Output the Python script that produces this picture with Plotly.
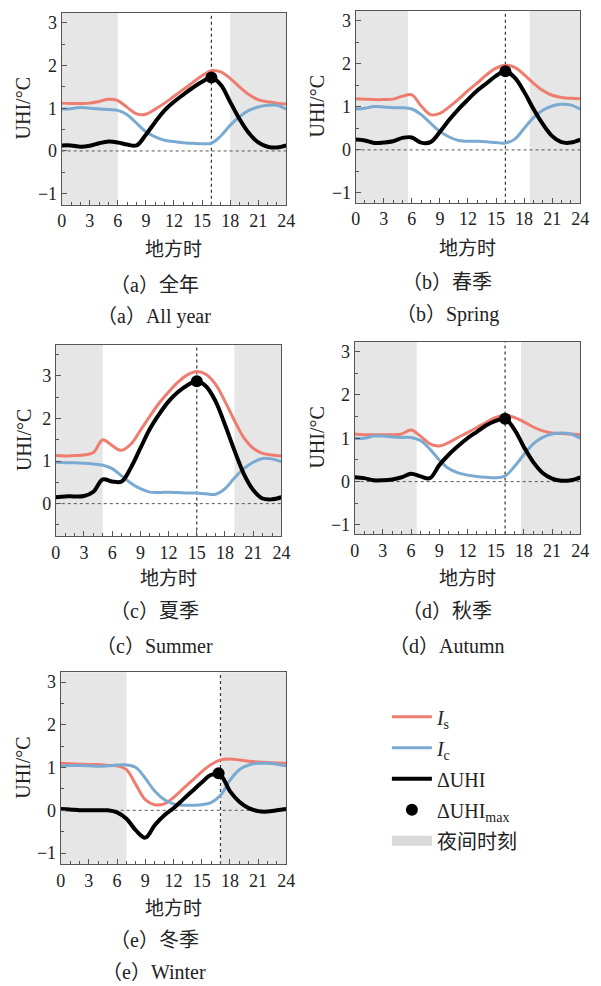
import plotly.graph_objects as go

# ---------------- data ----------------
HOURS = list(range(25))
X_TICKS = [0, 3, 6, 9, 12, 15, 18, 21, 24]

CAP_CN = ["（a）全年", "（b）春季", "（c）夏季", "（d）秋季", "（e）冬季"]
CAP_EN = ["（a）All year", "（b）Spring", "（c）Summer", "（d）Autumn", "（e）Winter"]

# I_s (red)
IS_A = [1.12, 1.11, 1.11, 1.12, 1.16, 1.21, 1.18, 1.02, 0.87, 0.86, 0.98, 1.12, 1.28,
        1.44, 1.60, 1.76, 1.88, 1.85, 1.70, 1.50, 1.32, 1.20, 1.15, 1.12, 1.10]
IS_B = [1.19, 1.18, 1.17, 1.17, 1.18, 1.25, 1.28, 1.02, 0.82, 0.85, 1.00, 1.18, 1.38,
        1.56, 1.75, 1.90, 1.97, 1.92, 1.75, 1.55, 1.38, 1.27, 1.22, 1.20, 1.19]
IS_C = [1.13, 1.12, 1.13, 1.14, 1.20, 1.50, 1.36, 1.25, 1.40, 1.72, 2.05, 2.36, 2.62,
        2.85, 3.02, 3.10, 3.03, 2.80, 2.40, 1.95, 1.55, 1.30, 1.18, 1.14, 1.12]
IS_D = [1.10, 1.08, 1.08, 1.08, 1.08, 1.10, 1.19, 1.05, 0.87, 0.82, 0.90, 1.02, 1.13,
        1.25, 1.37, 1.48, 1.53, 1.48, 1.38, 1.26, 1.17, 1.12, 1.11, 1.10, 1.08]
IS_E = [1.10, 1.09, 1.08, 1.07, 1.07, 1.05, 1.04, 0.95, 0.60, 0.25, 0.13, 0.15, 0.30,
        0.50, 0.70, 0.90, 1.07, 1.18, 1.20, 1.18, 1.15, 1.13, 1.12, 1.11, 1.10]

# I_c (blue)
IC_A = [0.98, 0.99, 1.02, 1.00, 0.98, 0.97, 0.95, 0.85, 0.65, 0.45, 0.33, 0.25, 0.22,
        0.19, 0.18, 0.17, 0.18, 0.35, 0.60, 0.80, 0.95, 1.03, 1.07, 1.07, 0.98]
IC_B = [0.95, 0.97, 1.01, 1.00, 0.98, 0.98, 0.95, 0.82, 0.62, 0.43, 0.30, 0.22, 0.20,
        0.20, 0.19, 0.17, 0.16, 0.25, 0.50, 0.75, 0.92, 1.02, 1.06, 1.04, 0.95]
IC_C = [0.97, 0.96, 0.96, 0.95, 0.93, 0.90, 0.82, 0.65, 0.48, 0.35, 0.27, 0.26, 0.27,
        0.26, 0.25, 0.25, 0.23, 0.22, 0.35, 0.60, 0.82, 0.97, 1.06, 1.05, 0.98]
IC_D = [1.00, 1.00, 1.05, 1.05, 1.03, 1.02, 1.02, 0.95, 0.75, 0.50, 0.30, 0.20, 0.15,
        0.12, 0.10, 0.09, 0.13, 0.35, 0.62, 0.87, 1.02, 1.10, 1.12, 1.10, 1.00]
IC_E = [1.03, 1.05, 1.05, 1.04, 1.03, 1.04, 1.06, 1.06, 1.00, 0.75, 0.45, 0.25, 0.15,
        0.12, 0.12, 0.13, 0.18, 0.35, 0.70, 0.95, 1.06, 1.10, 1.10, 1.08, 1.04]

# Delta UHI (black)
DU_A = [0.13, 0.13, 0.10, 0.12, 0.18, 0.22, 0.20, 0.15, 0.13, 0.38, 0.68, 0.95, 1.15,
        1.32, 1.48, 1.62, 1.72, 1.55, 1.15, 0.75, 0.42, 0.20, 0.10, 0.08, 0.13]
DU_B = [0.24, 0.22, 0.16, 0.17, 0.20, 0.28, 0.29, 0.17, 0.18, 0.42, 0.70, 0.95, 1.17,
        1.38, 1.55, 1.72, 1.83, 1.68, 1.35, 0.95, 0.60, 0.32, 0.18, 0.17, 0.24]
DU_C = [0.15, 0.17, 0.17, 0.18, 0.28, 0.57, 0.52, 0.52, 0.85, 1.30, 1.75, 2.10, 2.40,
        2.62, 2.78, 2.87, 2.75, 2.40, 1.85, 1.25, 0.70, 0.32, 0.12, 0.10, 0.15]
DU_D = [0.10, 0.08, 0.03, 0.03, 0.05, 0.10, 0.18, 0.12, 0.08, 0.38, 0.62, 0.82, 1.00,
        1.15, 1.30, 1.40, 1.45, 1.20, 0.80, 0.45, 0.20, 0.07, 0.02, 0.03, 0.10]
DU_E = [0.03, 0.02, 0.00, 0.00, 0.00, 0.00, -0.05, -0.20, -0.47, -0.64, -0.35, -0.12, 0.05,
        0.25, 0.45, 0.65, 0.83, 0.82, 0.45, 0.20, 0.05, -0.02, -0.03, 0.00, 0.03]

IS_ALL = [IS_A, IS_B, IS_C, IS_D, IS_E]
IC_ALL = [IC_A, IC_B, IC_C, IC_D, IC_E]
DU_ALL = [DU_A, DU_B, DU_C, DU_D, DU_E]

PEAK_HOUR = [16, 16, 15, 16, 16.8]
PEAK_VALUE = [1.72, 1.83, 2.87, 1.45, 0.87]
VLINE_HOUR = [16, 16, 15, 16, 17]
NIGHT_END = [6, 5.6, 5, 6.6, 7]
NIGHT_START = [18, 18.6, 19, 17.7, 17]

# ---------------- layout helpers ----------------
W, H = 601, 986


def px(x):
    return x / W


def py(y):
    return 1 - y / H


# plot areas in pixels: (left, right, top, bottom)
BOXES = [(58, 288, 13, 205), (359, 589, 11, 203), (52, 283, 345, 537),
         (358, 589, 342, 535), (57, 288, 673, 865)]
YRANGES = [[-1.26, 3.23], [-1.23, 3.23], [-0.77, 3.73], [-1.22, 3.23], [-1.26, 3.23]]
YTICKS = [[-1, 0, 1, 2, 3], [-1, 0, 1, 2, 3], [0, 1, 2, 3], [-1, 0, 1, 2, 3], [-1, 0, 1, 2, 3]]
YTITLE_X = [18, 319, 19, 319, 19]
CAP_X = [153, 453, 153, 453, 153]
XTITLE_Y = [248, 247, 577, 577, 907]
CAP1_Y = [285, 282, 612, 612, 941]
CAP2_Y = [317, 315, 647, 647, 973]

RED = "#EE7D70"
BLUE = "#7AAAD2"
GRAY = "#E6E6E6"
SERIF = "Liberation Serif, Noto Sans CJK SC"
CJK = "Noto Sans CJK SC"
TXT = "#222222"

fig = go.Figure()
shapes = []
annotations = []


def note(text, x, y, font, angle=0):
    annotations.append(dict(text=text, x=px(x), y=py(y), xref="paper", yref="paper",
                            xanchor="center", yanchor="middle", textangle=angle,
                            showarrow=False, font=font))


for i in range(5):
    n = "" if i == 0 else str(i + 1)
    xa, ya = "x" + n, "y" + n
    leg = i == 0
    fig.add_trace(go.Scatter(x=HOURS, y=IS_ALL[i], mode="lines", xaxis=xa, yaxis=ya,
                             line=dict(color=RED, width=3, shape="spline", smoothing=1.0),
                             name="<i>I</i><sub>s</sub>", showlegend=leg, legendgroup="g1"))
    fig.add_trace(go.Scatter(x=HOURS, y=IC_ALL[i], mode="lines", xaxis=xa, yaxis=ya,
                             line=dict(color=BLUE, width=3, shape="spline", smoothing=1.0),
                             name="<i>I</i><sub>c</sub>", showlegend=leg, legendgroup="g2"))
    fig.add_trace(go.Scatter(x=HOURS, y=DU_ALL[i], mode="lines", xaxis=xa, yaxis=ya,
                             line=dict(color="black", width=4, shape="spline", smoothing=1.0),
                             name="ΔUHI", showlegend=leg, legendgroup="g3"))
    fig.add_trace(go.Scatter(x=[PEAK_HOUR[i]], y=[PEAK_VALUE[i]], mode="markers",
                             xaxis=xa, yaxis=ya,
                             marker=dict(color="black", size=12),
                             name="ΔUHI<sub>max</sub>", showlegend=leg, legendgroup="g4"))

    l, r, t, b = BOXES[i]
    axx = dict(domain=[px(l), px(r)], range=[0, 24], anchor=ya,
               tickvals=X_TICKS, ticks="inside", ticklen=5, tickcolor="#555",
               showline=True, linecolor="#555", linewidth=1, mirror=True,
               showgrid=False, zeroline=False,
               tickfont=dict(family=SERIF, size=18, color=TXT),
               minor=dict(dtick=1, ticks="inside", ticklen=3, tickcolor="#555"))
    axy = dict(domain=[py(b), py(t)], range=YRANGES[i], anchor=xa,
               tickvals=YTICKS[i], ticks="inside", ticklen=5, tickcolor="#555",
               showline=True, linecolor="#555", linewidth=1, mirror=True,
               showgrid=False, zeroline=False,
               tickfont=dict(family=SERIF, size=18, color=TXT),
               minor=dict(dtick=0.5, ticks="inside", ticklen=3, tickcolor="#555"))
    fig.layout["xaxis" + n] = axx
    fig.layout["yaxis" + n] = axy

    # night shading
    shapes.append(dict(type="rect", xref=xa, yref=ya + " domain", x0=0, x1=NIGHT_END[i],
                       y0=0, y1=1, fillcolor=GRAY, line=dict(width=0), layer="below"))
    shapes.append(dict(type="rect", xref=xa, yref=ya + " domain", x0=NIGHT_START[i], x1=24,
                       y0=0, y1=1, fillcolor=GRAY, line=dict(width=0), layer="below"))
    # zero line
    shapes.append(dict(type="line", xref=xa + " domain", yref=ya, x0=0, x1=1, y0=0, y1=0,
                       line=dict(color="#555", width=1, dash="dot"), layer="below"))
    # peak time line
    shapes.append(dict(type="line", xref=xa, yref=ya + " domain", x0=VLINE_HOUR[i],
                       x1=VLINE_HOUR[i], y0=0, y1=1,
                       line=dict(color="#333", width=1.2, dash="dot"), layer="below"))

    # axis titles and captions
    note("UHI/°C", YTITLE_X[i], (t + b) / 2, dict(family=SERIF, size=20, color=TXT), -90)
    note("地方时", (l + r) / 2, XTITLE_Y[i], dict(family=CJK, size=19, color=TXT))
    note(CAP_CN[i], CAP_X[i], CAP1_Y[i], dict(family=SERIF, size=20, color=TXT))
    note(CAP_EN[i], CAP_X[i], CAP2_Y[i], dict(family=SERIF, size=20, color=TXT))

# legend entry for night time
fig.add_trace(go.Scatter(x=[None], y=[None], mode="lines", name="夜间时刻",
                         line=dict(color="#D9D9D9", width=20), showlegend=True,
                         legendgroup="g5"))

fig.update_layout(
    width=W, height=H, margin=dict(l=0, r=0, t=0, b=0),
    paper_bgcolor="white", plot_bgcolor="white",
    shapes=shapes, annotations=annotations,
    showlegend=True,
    legend=dict(x=px(391), y=py(698), xanchor="left", yanchor="top",
                font=dict(family=SERIF, size=20, color=TXT),
                tracegroupgap=2, bgcolor="rgba(0,0,0,0)", itemwidth=40),
)

fig.write_html("out.html")
